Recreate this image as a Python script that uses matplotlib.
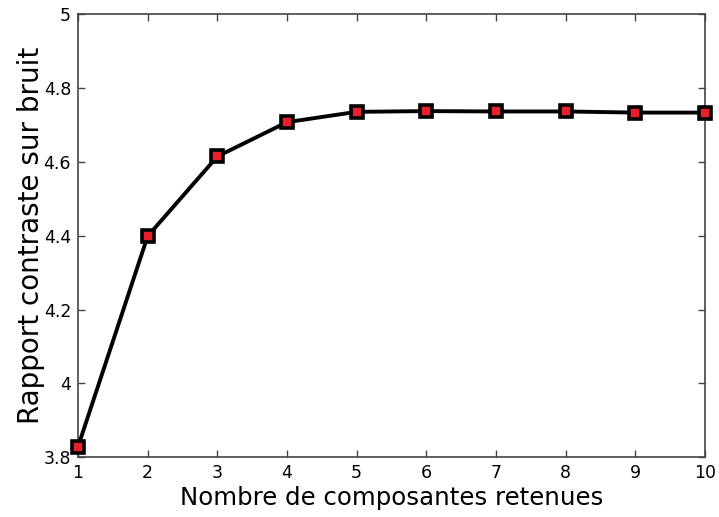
import matplotlib
matplotlib.use("Agg")
import matplotlib.pyplot as plt

# Number of retained components vs. contrast-to-noise ratio
components = [1, 2, 3, 4, 5, 6, 7, 8, 9, 10]
cnr = [3.828, 4.399, 4.615, 4.708, 4.736, 4.738, 4.737, 4.737, 4.734, 4.734]

xticks = [1, 2, 3, 4, 5, 6, 7, 8, 9, 10]
yticks = [3.8, 4.0, 4.2, 4.4, 4.6, 4.8, 5.0]
yticklabels = ["3.8", "4", "4.2", "4.4", "4.6", "4.8", "5"]

plt.rcParams['font.family'] = ['DejaVu Sans']

fig = plt.figure(figsize=(7.19, 5.17), dpi=100)
ax = fig.add_axes([0.1085, 0.116, 0.872, 0.856])

ax.plot(components, cnr, color='black', linewidth=2.8,
        marker='s', markersize=8, markerfacecolor='#e8202a',
        markeredgecolor='black', markeredgewidth=2.6, clip_on=False, zorder=3)

ax.set_xlim(1, 10)
ax.set_ylim(3.8, 5.0)
ax.set_xticks(xticks)
ax.set_yticks(yticks)
ax.set_yticklabels(yticklabels)

ax.tick_params(direction='in', top=True, right=True, length=5, width=1,
               color='#444444', labelsize=12.5, pad=5)
for s in ax.spines.values():
    s.set_color('#444444')
    s.set_linewidth(1.2)

ax.set_xlabel('Nombre de composantes retenues', fontsize=17.6, labelpad=3)
ax.set_ylabel('Rapport contraste sur bruit', fontsize=20, labelpad=-1)

fig.savefig('out.png', dpi=100)
